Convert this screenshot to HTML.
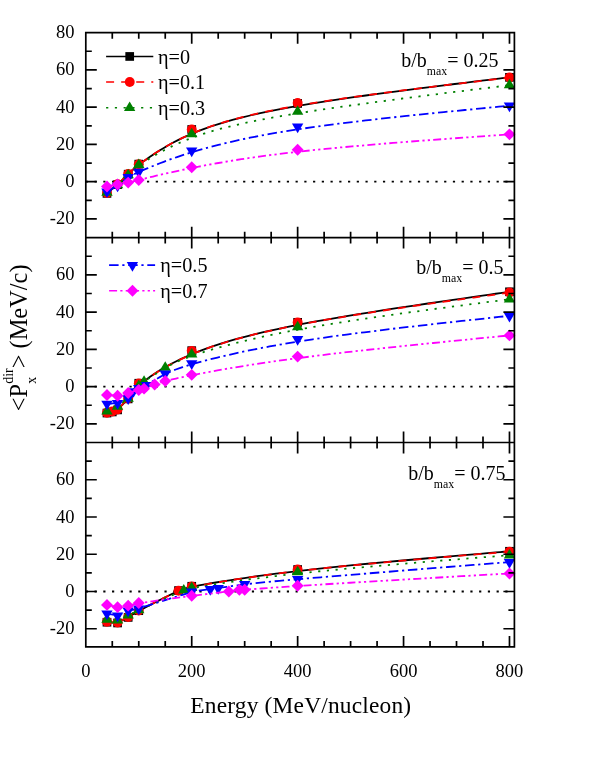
<!DOCTYPE html>
<html><head><meta charset="utf-8"><title>chart</title>
<style>html,body{margin:0;padding:0;background:#fff}svg{display:block;will-change:transform}</style></head>
<body>
<svg width="595" height="770" viewBox="0 0 595 770">
<rect width="595" height="770" fill="#fff"/>
<g font-family="'Liberation Serif', serif" fill="#000">
<path d="M85.8 181.65H514.4" stroke="#000" stroke-width="1.8" stroke-dasharray="2.2 6.54" fill="none"/>
<polyline points="106.98,193.38 106.98,193.38 106.99,193.38 107.01,193.37 107.04,193.34 107.08,193.30 107.16,193.24 107.26,193.16 107.40,193.05 107.57,192.90 107.79,192.72 108.05,192.50 108.37,192.24 108.75,191.93 109.19,191.57 109.68,191.16 110.23,190.71 110.83,190.22 111.47,189.68 112.15,189.11 112.86,188.51 113.60,187.88 114.37,187.22 115.15,186.54 115.95,185.83 116.76,185.11 117.58,184.38 118.39,183.64 119.20,182.89 120.02,182.13 120.83,181.36 121.64,180.59 122.44,179.81 123.25,179.03 124.04,178.25 124.84,177.47 125.63,176.70 126.41,175.92 127.19,175.15 127.96,174.39 128.72,173.63 129.50,172.86 130.31,172.08 131.18,171.26 132.11,170.40 133.15,169.49 134.29,168.51 135.57,167.45 137.01,166.29 138.62,165.03 140.43,163.65 142.45,162.14 144.71,160.49 147.22,158.69 149.99,156.74 153.03,154.68 156.33,152.51 159.91,150.24 163.76,147.91 167.89,145.51 172.30,143.08 177.00,140.62 181.99,138.16 187.28,135.70 192.86,133.27 198.75,130.88 204.94,128.54 211.47,126.26 218.36,124.03 225.63,121.84 233.32,119.69 241.44,117.58 250.04,115.50 259.12,113.44 268.73,111.40 278.89,109.38 289.62,107.38 300.95,105.38 312.91,103.38 325.50,101.39 338.59,99.40 352.04,97.44 365.70,95.51 379.42,93.63 393.06,91.81 406.46,90.06 419.48,88.39 431.97,86.81 443.78,85.34 454.76,83.99 464.76,82.77 473.64,81.70 481.88,80.70 488.74,79.86 494.36,79.18 498.86,78.64 502.37,78.21 505.00,77.89 506.89,77.66 508.15,77.51 508.92,77.42 509.31,77.37 509.46,77.35 509.48,77.35" fill="none" stroke="#000000" stroke-width="1.8"/>
<rect x="102.63" y="189.03" width="8.7" height="8.7" fill="#000000"/>
<rect x="113.23" y="180.28" width="8.7" height="8.7" fill="#000000"/>
<rect x="123.82" y="169.85" width="8.7" height="8.7" fill="#000000"/>
<rect x="134.41" y="159.79" width="8.7" height="8.7" fill="#000000"/>
<rect x="187.37" y="125.15" width="8.7" height="8.7" fill="#000000"/>
<rect x="293.29" y="99.08" width="8.7" height="8.7" fill="#000000"/>
<rect x="505.13" y="73.00" width="8.7" height="8.7" fill="#000000"/>
<polyline points="106.98,193.01 106.98,193.01 106.99,193.01 107.01,192.99 107.04,192.97 107.08,192.93 107.16,192.87 107.26,192.78 107.40,192.67 107.57,192.53 107.79,192.35 108.05,192.13 108.37,191.87 108.75,191.56 109.19,191.20 109.68,190.79 110.23,190.34 110.83,189.84 111.47,189.31 112.15,188.74 112.86,188.14 113.60,187.51 114.37,186.85 115.15,186.17 115.95,185.48 116.76,184.76 117.58,184.04 118.39,183.30 119.20,182.56 120.02,181.81 120.83,181.05 121.64,180.29 122.44,179.53 123.25,178.76 124.04,177.99 124.84,177.23 125.63,176.47 126.41,175.71 127.19,174.95 127.96,174.20 128.72,173.45 129.50,172.70 130.31,171.93 131.18,171.13 132.11,170.29 133.15,169.39 134.29,168.42 135.57,167.37 137.01,166.23 138.62,164.98 140.43,163.61 142.45,162.11 144.71,160.47 147.22,158.67 149.99,156.73 153.03,154.67 156.33,152.50 159.91,150.24 163.76,147.90 167.89,145.51 172.30,143.07 177.00,140.61 181.99,138.14 187.28,135.67 192.86,133.23 198.75,130.82 204.94,128.47 211.47,126.17 218.36,123.92 225.63,121.71 233.32,119.54 241.44,117.40 250.04,115.30 259.12,113.23 268.73,111.18 278.89,109.15 289.62,107.14 300.95,105.14 312.91,103.15 325.50,101.16 338.59,99.19 352.04,97.25 365.70,95.35 379.42,93.49 393.06,91.70 406.46,89.98 419.48,88.34 431.97,86.79 443.78,85.35 454.76,84.03 464.76,82.84 473.64,81.78 481.88,80.81 488.74,79.99 494.36,79.33 498.86,78.79 502.37,78.38 505.00,78.07 506.89,77.84 508.15,77.69 508.92,77.60 509.31,77.56 509.46,77.54 509.48,77.54" fill="none" stroke="#ff0000" stroke-width="1.8" stroke-dasharray="8 7.06"/>
<circle cx="106.98" cy="193.01" r="4.95" fill="#ff0000"/>
<circle cx="117.58" cy="184.26" r="4.95" fill="#ff0000"/>
<circle cx="128.17" cy="174.01" r="4.95" fill="#ff0000"/>
<circle cx="138.76" cy="164.14" r="4.95" fill="#ff0000"/>
<circle cx="191.72" cy="129.50" r="4.95" fill="#ff0000"/>
<circle cx="297.64" cy="103.05" r="4.95" fill="#ff0000"/>
<circle cx="509.48" cy="77.54" r="4.95" fill="#ff0000"/>
<polyline points="106.98,192.64 106.98,192.64 106.99,192.63 107.01,192.62 107.04,192.60 107.08,192.57 107.16,192.51 107.26,192.44 107.40,192.34 107.57,192.22 107.79,192.06 108.05,191.88 108.37,191.65 108.75,191.38 109.19,191.07 109.68,190.71 110.23,190.31 110.83,189.88 111.47,189.41 112.15,188.91 112.86,188.38 113.60,187.81 114.37,187.22 115.15,186.61 115.95,185.98 116.76,185.32 117.58,184.65 118.39,183.96 119.20,183.26 120.02,182.54 120.83,181.82 121.64,181.09 122.44,180.34 123.25,179.60 124.04,178.84 124.84,178.09 125.63,177.33 126.41,176.57 127.19,175.82 127.96,175.06 128.72,174.31 129.50,173.55 130.31,172.78 131.18,171.97 132.11,171.13 133.15,170.24 134.29,169.30 135.57,168.28 137.01,167.18 138.62,165.99 140.43,164.71 142.45,163.31 144.71,161.79 147.22,160.14 149.99,158.37 153.03,156.50 156.33,154.54 159.91,152.51 163.76,150.42 167.89,148.28 172.30,146.11 177.00,143.93 181.99,141.75 187.28,139.58 192.86,137.45 198.75,135.35 204.94,133.31 211.47,131.32 218.36,129.38 225.63,127.47 233.32,125.60 241.44,123.75 250.04,121.92 259.12,120.11 268.73,118.30 278.89,116.48 289.62,114.66 300.95,112.83 312.91,110.98 325.50,109.10 338.59,107.21 352.04,105.32 365.70,103.44 379.42,101.60 393.06,99.80 406.46,98.05 419.48,96.38 431.97,94.80 443.78,93.31 454.76,91.94 464.76,90.70 473.64,89.60 481.88,88.58 488.74,87.74 494.36,87.04 498.86,86.48 502.37,86.05 505.00,85.73 506.89,85.49 508.15,85.34 508.92,85.24 509.31,85.19 509.46,85.18 509.48,85.17" fill="none" stroke="#008000" stroke-width="1.8" stroke-dasharray="2.2 6.55"/>
<path d="M101.28 195.84L112.68 195.84L106.98 186.34Z" fill="#008000"/>
<path d="M111.88 188.20L123.28 188.20L117.58 178.70Z" fill="#008000"/>
<path d="M122.47 178.15L133.87 178.15L128.17 168.65Z" fill="#008000"/>
<path d="M133.06 168.09L144.46 168.09L138.76 158.59Z" fill="#008000"/>
<path d="M186.02 137.17L197.42 137.17L191.72 127.67Z" fill="#008000"/>
<path d="M291.94 114.82L303.34 114.82L297.64 105.32Z" fill="#008000"/>
<path d="M503.78 88.37L515.18 88.37L509.48 78.87Z" fill="#008000"/>
<polyline points="106.98,191.52 106.98,191.52 106.99,191.52 107.01,191.51 107.04,191.49 107.08,191.47 107.16,191.43 107.26,191.37 107.40,191.30 107.57,191.21 107.79,191.09 108.05,190.95 108.37,190.78 108.75,190.57 109.19,190.34 109.68,190.07 110.23,189.77 110.83,189.44 111.47,189.08 112.15,188.70 112.86,188.28 113.60,187.85 114.37,187.39 115.15,186.90 115.95,186.39 116.76,185.87 117.58,185.32 118.39,184.76 119.20,184.18 120.02,183.59 120.83,182.99 121.64,182.39 122.44,181.78 123.25,181.17 124.04,180.57 124.84,179.98 125.63,179.39 126.41,178.82 127.19,178.27 127.96,177.74 128.72,177.23 129.50,176.73 130.31,176.23 131.18,175.73 132.11,175.22 133.15,174.68 134.29,174.11 135.57,173.50 137.01,172.83 138.62,172.10 140.43,171.30 142.45,170.42 144.71,169.45 147.22,168.39 149.99,167.23 153.03,165.98 156.33,164.66 159.91,163.26 163.76,161.80 167.89,160.27 172.30,158.69 177.00,157.07 181.99,155.40 187.28,153.70 192.86,151.98 198.75,150.23 204.94,148.47 211.47,146.69 218.36,144.91 225.63,143.12 233.32,141.33 241.44,139.53 250.04,137.74 259.12,135.95 268.73,134.16 278.89,132.39 289.62,130.62 300.95,128.87 312.91,127.13 325.50,125.41 338.59,123.72 352.04,122.06 365.70,120.44 379.42,118.88 393.06,117.37 406.46,115.93 419.48,114.57 431.97,113.28 443.78,112.09 454.76,111.00 464.76,110.02 473.64,109.15 481.88,108.35 488.74,107.68 494.36,107.13 498.86,106.70 502.37,106.35 505.00,106.10 506.89,105.91 508.15,105.79 508.92,105.71 509.31,105.68 509.46,105.66 509.48,105.66" fill="none" stroke="#0000ff" stroke-width="1.8" stroke-dasharray="9.5 3.7 2.2 3.7"/>
<path d="M101.28 188.42L112.63 188.42L106.98 198.12Z" fill="#0000ff"/>
<path d="M111.88 182.65L123.23 182.65L117.58 192.35Z" fill="#0000ff"/>
<path d="M122.47 174.08L133.82 174.08L128.17 183.78Z" fill="#0000ff"/>
<path d="M133.06 168.68L144.41 168.68L138.76 178.38Z" fill="#0000ff"/>
<path d="M186.02 147.45L197.37 147.45L191.72 157.15Z" fill="#0000ff"/>
<path d="M291.94 123.61L303.29 123.61L297.64 133.31Z" fill="#0000ff"/>
<path d="M503.78 102.56L515.13 102.56L509.48 112.26Z" fill="#0000ff"/>
<polyline points="106.98,186.49 106.98,186.49 106.99,186.49 107.01,186.49 107.04,186.48 107.08,186.47 107.16,186.46 107.26,186.44 107.40,186.41 107.57,186.38 107.79,186.34 108.05,186.29 108.37,186.22 108.75,186.15 109.19,186.07 109.68,185.97 110.23,185.86 110.83,185.75 111.47,185.62 112.15,185.49 112.86,185.36 113.60,185.22 114.37,185.07 115.15,184.92 115.95,184.78 116.76,184.62 117.58,184.47 118.39,184.33 119.20,184.18 120.02,184.03 120.83,183.88 121.64,183.74 122.44,183.59 123.25,183.44 124.04,183.29 124.84,183.14 125.63,182.99 126.41,182.84 127.19,182.68 127.96,182.52 128.72,182.36 129.50,182.19 130.31,182.01 131.18,181.81 132.11,181.59 133.15,181.34 134.29,181.07 135.57,180.76 137.01,180.41 138.62,180.02 140.43,179.57 142.45,179.08 144.71,178.53 147.22,177.91 149.99,177.24 153.03,176.51 156.33,175.73 159.91,174.89 163.76,174.00 167.89,173.07 172.30,172.10 177.00,171.08 181.99,170.02 187.28,168.93 192.86,167.80 198.75,166.64 204.94,165.45 211.47,164.24 218.36,163.00 225.63,161.74 233.32,160.47 241.44,159.19 250.04,157.90 259.12,156.60 268.73,155.29 278.89,153.99 289.62,152.70 300.95,151.41 312.91,150.13 325.50,148.86 338.59,147.61 352.04,146.39 365.70,145.21 379.42,144.05 393.06,142.95 406.46,141.89 419.48,140.88 431.97,139.94 443.78,139.07 454.76,138.27 464.76,137.55 473.64,136.91 481.88,136.32 488.74,135.83 494.36,135.43 498.86,135.10 502.37,134.85 505.00,134.66 506.89,134.53 508.15,134.44 508.92,134.38 509.31,134.35 509.46,134.34 509.48,134.34" fill="none" stroke="#ff00ff" stroke-width="1.8" stroke-dasharray="8 3.2 2.2 3.2 2.2 3.2"/>
<path d="M101.03 186.49L106.98 180.54L112.93 186.49L106.98 192.44Z" fill="#ff00ff"/>
<path d="M111.63 184.44L117.58 178.49L123.53 184.44L117.58 190.39Z" fill="#ff00ff"/>
<path d="M122.22 182.58L128.17 176.63L134.12 182.58L128.17 188.53Z" fill="#ff00ff"/>
<path d="M132.81 179.97L138.76 174.02L144.71 179.97L138.76 185.92Z" fill="#ff00ff"/>
<path d="M185.77 167.31L191.72 161.36L197.67 167.31L191.72 173.26Z" fill="#ff00ff"/>
<path d="M291.69 149.80L297.64 143.85L303.59 149.80L297.64 155.75Z" fill="#ff00ff"/>
<path d="M503.53 134.34L509.48 128.39L515.43 134.34L509.48 140.29Z" fill="#ff00ff"/>
<path d="M85.8 386.60H514.4" stroke="#000" stroke-width="1.8" stroke-dasharray="2.2 6.54" fill="none"/>
<polyline points="106.98,413.05 106.98,413.05 106.99,413.05 107.00,413.04 107.02,413.04 107.05,413.03 107.09,413.02 107.16,413.01 107.25,412.99 107.36,412.97 107.49,412.94 107.66,412.91 107.87,412.87 108.11,412.82 108.38,412.76 108.68,412.70 109.01,412.63 109.36,412.55 109.74,412.47 110.13,412.38 110.54,412.28 110.96,412.18 111.39,412.07 111.82,411.96 112.25,411.84 112.69,411.71 113.13,411.58 113.57,411.43 114.02,411.26 114.48,411.07 114.96,410.84 115.46,410.59 115.98,410.29 116.53,409.95 117.10,409.55 117.71,409.11 118.35,408.60 119.03,408.03 119.75,407.40 120.50,406.70 121.27,405.96 122.07,405.16 122.88,404.31 123.71,403.41 124.55,402.48 125.39,401.49 126.24,400.48 127.09,399.42 127.93,398.34 128.77,397.22 129.62,396.07 130.51,394.87 131.47,393.62 132.53,392.31 133.70,390.93 135.02,389.48 136.51,387.94 138.20,386.30 140.11,384.57 142.27,382.72 144.71,380.76 147.44,378.68 150.48,376.49 153.83,374.20 157.49,371.82 161.48,369.38 165.79,366.87 170.43,364.32 175.40,361.74 180.72,359.15 186.38,356.54 192.38,353.95 198.75,351.38 205.47,348.84 212.59,346.33 220.14,343.85 228.14,341.39 236.65,338.95 245.68,336.52 255.28,334.10 265.47,331.69 276.30,329.28 287.79,326.86 299.98,324.43 312.91,321.99 326.57,319.54 340.81,317.09 355.44,314.66 370.27,312.27 385.12,309.94 399.80,307.69 414.11,305.54 427.87,303.50 440.90,301.60 452.99,299.85 463.97,298.28 473.64,296.90 482.56,295.63 489.85,294.59 495.69,293.76 500.24,293.11 503.66,292.63 506.11,292.28 507.76,292.04 508.75,291.90 509.26,291.83 509.45,291.80 509.48,291.80" fill="none" stroke="#000000" stroke-width="1.8"/>
<rect x="102.63" y="408.70" width="8.7" height="8.7" fill="#000000"/>
<rect x="107.93" y="407.58" width="8.7" height="8.7" fill="#000000"/>
<rect x="113.23" y="405.53" width="8.7" height="8.7" fill="#000000"/>
<rect x="123.82" y="394.54" width="8.7" height="8.7" fill="#000000"/>
<rect x="134.41" y="378.90" width="8.7" height="8.7" fill="#000000"/>
<rect x="187.37" y="346.30" width="8.7" height="8.7" fill="#000000"/>
<rect x="293.29" y="317.99" width="8.7" height="8.7" fill="#000000"/>
<rect x="505.13" y="287.45" width="8.7" height="8.7" fill="#000000"/>
<polyline points="106.98,412.68 106.98,412.67 106.99,412.67 107.00,412.67 107.02,412.67 107.05,412.66 107.09,412.65 107.16,412.64 107.25,412.62 107.36,412.60 107.49,412.57 107.66,412.54 107.87,412.49 108.11,412.44 108.38,412.39 108.68,412.32 109.01,412.25 109.36,412.18 109.74,412.09 110.13,412.00 110.54,411.91 110.96,411.80 111.39,411.70 111.82,411.58 112.25,411.47 112.69,411.34 113.13,411.21 113.57,411.06 114.02,410.89 114.48,410.70 114.96,410.47 115.46,410.21 115.98,409.91 116.53,409.57 117.10,409.18 117.71,408.73 118.35,408.22 119.03,407.65 119.75,407.02 120.50,406.33 121.27,405.58 122.07,404.79 122.88,403.94 123.71,403.05 124.55,402.12 125.39,401.15 126.24,400.15 127.09,399.11 127.93,398.05 128.77,396.96 129.62,395.84 130.51,394.67 131.47,393.46 132.53,392.18 133.70,390.84 135.02,389.42 136.51,387.92 138.20,386.32 140.11,384.61 142.27,382.80 144.71,380.87 147.44,378.81 150.48,376.63 153.83,374.36 157.49,371.99 161.48,369.55 165.79,367.05 170.43,364.51 175.40,361.93 180.72,359.32 186.38,356.72 192.38,354.12 198.75,351.54 205.47,348.99 212.59,346.47 220.14,343.97 228.14,341.51 236.65,339.06 245.68,336.62 255.28,334.20 265.47,331.78 276.30,329.37 287.79,326.96 299.98,324.55 312.91,322.13 326.57,319.71 340.81,317.29 355.44,314.89 370.27,312.55 385.12,310.26 399.80,308.05 414.11,305.95 427.87,303.95 440.90,302.10 452.99,300.39 463.97,298.86 473.64,297.52 482.56,296.28 489.85,295.27 495.69,294.46 500.24,293.83 503.66,293.35 506.11,293.01 507.76,292.78 508.75,292.64 509.26,292.57 509.45,292.55 509.48,292.54" fill="none" stroke="#ff0000" stroke-width="1.8" stroke-dasharray="8 7.06"/>
<circle cx="106.98" cy="412.68" r="4.95" fill="#ff0000"/>
<circle cx="112.28" cy="411.56" r="4.95" fill="#ff0000"/>
<circle cx="117.58" cy="409.51" r="4.95" fill="#ff0000"/>
<circle cx="128.17" cy="398.52" r="4.95" fill="#ff0000"/>
<circle cx="138.76" cy="383.43" r="4.95" fill="#ff0000"/>
<circle cx="191.72" cy="350.84" r="4.95" fill="#ff0000"/>
<circle cx="297.64" cy="322.34" r="4.95" fill="#ff0000"/>
<circle cx="509.48" cy="292.54" r="4.95" fill="#ff0000"/>
<polyline points="106.98,411.19 106.99,411.18 106.99,411.18 107.02,411.17 107.07,411.15 107.15,411.11 107.27,411.06 107.44,410.99 107.66,410.89 107.95,410.77 108.31,410.61 108.75,410.43 109.27,410.20 109.88,409.94 110.55,409.64 111.29,409.31 112.09,408.94 112.93,408.54 113.81,408.10 114.72,407.64 115.66,407.14 116.61,406.62 117.58,406.06 118.54,405.48 119.50,404.86 120.47,404.22 121.43,403.54 122.39,402.83 123.36,402.09 124.32,401.31 125.29,400.50 126.26,399.64 127.22,398.75 128.19,397.81 129.16,396.84 130.13,395.83 131.09,394.80 132.04,393.77 132.96,392.73 133.87,391.71 134.75,390.71 135.60,389.74 136.41,388.82 137.18,387.96 137.90,387.16 138.58,386.43 139.23,385.76 139.86,385.14 140.49,384.56 141.14,383.99 141.82,383.42 142.56,382.84 143.37,382.24 144.26,381.59 145.26,380.88 146.39,380.11 147.64,379.24 149.03,378.30 150.53,377.30 152.14,376.23 153.85,375.11 155.65,373.95 157.52,372.75 159.45,371.54 161.44,370.30 163.47,369.07 165.54,367.83 167.64,366.61 169.82,365.38 172.15,364.14 174.67,362.88 177.45,361.58 180.54,360.23 184.01,358.82 187.92,357.33 192.31,355.76 197.26,354.08 202.82,352.30 209.03,350.40 215.94,348.38 223.56,346.26 231.92,344.05 241.03,341.76 250.92,339.41 261.60,337.00 273.11,334.54 285.46,332.05 298.68,329.54 312.78,327.02 327.74,324.49 343.37,321.99 359.42,319.54 375.65,317.14 391.80,314.83 407.65,312.62 422.94,310.54 437.43,308.60 450.87,306.83 463.02,305.25 473.64,303.88 483.36,302.62 491.13,301.62 497.19,300.84 501.74,300.25 505.00,299.83 507.19,299.54 508.51,299.37 509.19,299.29 509.44,299.25 509.48,299.25" fill="none" stroke="#008000" stroke-width="1.8" stroke-dasharray="2.2 6.55"/>
<path d="M101.28 414.38L112.68 414.38L106.98 404.88Z" fill="#008000"/>
<path d="M111.88 409.73L123.28 409.73L117.58 400.23Z" fill="#008000"/>
<path d="M122.47 401.72L133.87 401.72L128.17 392.22Z" fill="#008000"/>
<path d="M133.06 389.06L144.46 389.06L138.76 379.56Z" fill="#008000"/>
<path d="M138.36 384.77L149.76 384.77L144.06 375.27Z" fill="#008000"/>
<path d="M159.54 370.80L170.94 370.80L165.24 361.30Z" fill="#008000"/>
<path d="M186.02 357.58L197.42 357.58L191.72 348.08Z" fill="#008000"/>
<path d="M291.94 330.20L303.34 330.20L297.64 320.70Z" fill="#008000"/>
<path d="M503.78 302.45L515.18 302.45L509.48 292.95Z" fill="#008000"/>
<polyline points="106.98,403.74 106.99,403.73 107.00,403.73 107.03,403.73 107.10,403.73 107.20,403.73 107.37,403.72 107.59,403.71 107.89,403.70 108.27,403.68 108.75,403.66 109.33,403.64 110.01,403.61 110.77,403.56 111.60,403.50 112.50,403.42 113.46,403.31 114.46,403.18 115.49,403.01 116.54,402.80 117.60,402.56 118.67,402.27 119.73,401.94 120.79,401.57 121.82,401.16 122.84,400.71 123.83,400.23 124.78,399.72 125.70,399.17 126.57,398.60 127.39,398.01 128.16,397.39 128.88,396.75 129.55,396.11 130.18,395.46 130.78,394.81 131.35,394.17 131.90,393.55 132.44,392.95 132.96,392.38 133.48,391.84 134.00,391.34 134.52,390.89 135.04,390.46 135.58,390.07 136.13,389.71 136.68,389.36 137.26,389.04 137.85,388.73 138.46,388.43 139.10,388.14 139.76,387.85 140.45,387.56 141.18,387.25 141.97,386.91 142.81,386.54 143.72,386.13 144.71,385.66 145.78,385.13 146.94,384.53 148.20,383.85 149.57,383.07 151.05,382.22 152.62,381.30 154.29,380.32 156.04,379.30 157.88,378.24 159.79,377.15 161.78,376.06 163.84,374.96 165.95,373.87 168.14,372.79 170.46,371.72 172.99,370.64 175.80,369.52 178.97,368.36 182.57,367.14 186.68,365.83 191.37,364.43 196.72,362.91 202.80,361.26 209.68,359.46 217.40,357.54 225.99,355.50 235.47,353.35 245.87,351.13 257.23,348.83 269.57,346.49 282.92,344.11 297.32,341.71 312.78,339.31 329.28,336.93 346.56,334.58 364.28,332.29 382.13,330.08 399.78,327.97 416.90,325.98 433.18,324.14 448.27,322.46 461.87,320.98 473.64,319.70 484.31,318.55 492.62,317.65 498.86,316.97 503.34,316.49 506.33,316.17 508.15,315.97 509.09,315.87 509.43,315.83 509.48,315.82" fill="none" stroke="#0000ff" stroke-width="1.8" stroke-dasharray="9.5 3.7 2.2 3.7"/>
<path d="M101.28 400.63L112.63 400.63L106.98 410.34Z" fill="#0000ff"/>
<path d="M111.88 400.08L123.23 400.08L117.58 409.78Z" fill="#0000ff"/>
<path d="M122.47 395.23L133.82 395.23L128.17 404.93Z" fill="#0000ff"/>
<path d="M127.76 388.16L139.11 388.16L133.46 397.86Z" fill="#0000ff"/>
<path d="M133.06 384.99L144.41 384.99L138.76 394.69Z" fill="#0000ff"/>
<path d="M141.00 382.01L152.35 382.01L146.70 391.71Z" fill="#0000ff"/>
<path d="M159.54 370.46L170.89 370.46L165.24 380.16Z" fill="#0000ff"/>
<path d="M186.02 360.22L197.37 360.22L191.72 369.92Z" fill="#0000ff"/>
<path d="M291.94 336.01L303.29 336.01L297.64 345.71Z" fill="#0000ff"/>
<path d="M503.78 312.72L515.13 312.72L509.48 322.43Z" fill="#0000ff"/>
<polyline points="106.98,394.98 106.99,394.98 107.00,394.98 107.03,394.99 107.10,394.99 107.20,395.00 107.37,395.01 107.59,395.03 107.89,395.05 108.27,395.08 108.75,395.12 109.33,395.17 110.01,395.22 110.77,395.27 111.60,395.31 112.50,395.35 113.45,395.37 114.45,395.37 115.47,395.34 116.52,395.29 117.58,395.21 118.64,395.09 119.69,394.93 120.75,394.75 121.81,394.54 122.88,394.30 123.94,394.05 125.00,393.78 126.06,393.50 127.13,393.21 128.19,392.91 129.26,392.62 130.32,392.32 131.38,392.03 132.41,391.74 133.43,391.46 134.41,391.18 135.36,390.92 136.28,390.67 137.14,390.43 137.96,390.21 138.72,390.01 139.43,389.82 140.11,389.64 140.76,389.47 141.41,389.29 142.05,389.11 142.71,388.92 143.39,388.71 144.10,388.48 144.86,388.23 145.67,387.94 146.54,387.64 147.45,387.30 148.40,386.95 149.38,386.59 150.39,386.21 151.41,385.82 152.45,385.43 153.50,385.05 154.54,384.66 155.58,384.28 156.64,383.91 157.71,383.53 158.83,383.16 159.99,382.78 161.23,382.39 162.55,381.99 163.97,381.57 165.51,381.14 167.17,380.69 168.99,380.21 171.02,379.70 173.32,379.14 175.97,378.52 179.03,377.85 182.56,377.09 186.63,376.25 191.32,375.32 196.67,374.28 202.76,373.12 209.65,371.84 217.38,370.44 225.97,368.93 235.46,367.33 245.87,365.64 257.23,363.88 269.57,362.04 282.92,360.15 297.32,358.21 312.78,356.24 329.28,354.23 346.56,352.23 364.28,350.24 382.13,348.30 399.78,346.43 416.90,344.65 433.18,342.98 448.27,341.46 461.87,340.10 473.64,338.93 484.31,337.88 492.62,337.05 498.86,336.43 503.34,335.99 506.33,335.69 508.15,335.51 509.09,335.42 509.43,335.39 509.48,335.38" fill="none" stroke="#ff00ff" stroke-width="1.8" stroke-dasharray="8 3.2 2.2 3.2 2.2 3.2"/>
<path d="M101.03 394.98L106.98 389.03L112.93 394.98L106.98 400.93Z" fill="#ff00ff"/>
<path d="M111.63 395.73L117.58 389.78L123.53 395.73L117.58 401.68Z" fill="#ff00ff"/>
<path d="M122.22 392.93L128.17 386.98L134.12 392.93L128.17 398.88Z" fill="#ff00ff"/>
<path d="M132.81 389.95L138.76 384.00L144.71 389.95L138.76 395.90Z" fill="#ff00ff"/>
<path d="M138.11 388.65L144.06 382.70L150.01 388.65L144.06 394.60Z" fill="#ff00ff"/>
<path d="M148.70 384.55L154.65 378.60L160.60 384.55L154.65 390.50Z" fill="#ff00ff"/>
<path d="M159.29 381.01L165.24 375.06L171.19 381.01L165.24 386.96Z" fill="#ff00ff"/>
<path d="M185.77 374.87L191.72 368.92L197.67 374.87L191.72 380.82Z" fill="#ff00ff"/>
<path d="M291.69 356.61L297.64 350.66L303.59 356.61L297.64 362.56Z" fill="#ff00ff"/>
<path d="M503.53 335.38L509.48 329.43L515.43 335.38L509.48 341.33Z" fill="#ff00ff"/>
<path d="M85.8 591.50H514.4" stroke="#000" stroke-width="1.8" stroke-dasharray="2.2 6.54" fill="none"/>
<polyline points="106.98,622.23 106.99,622.23 106.99,622.23 107.01,622.23 107.05,622.24 107.11,622.24 107.20,622.25 107.33,622.26 107.51,622.28 107.73,622.30 108.01,622.32 108.34,622.35 108.75,622.39 109.23,622.43 109.77,622.47 110.38,622.51 111.04,622.55 111.75,622.57 112.50,622.58 113.29,622.57 114.11,622.53 114.96,622.47 115.82,622.37 116.69,622.23 117.58,622.05 118.46,621.83 119.34,621.56 120.22,621.26 121.10,620.92 121.98,620.54 122.85,620.14 123.73,619.72 124.59,619.27 125.46,618.80 126.32,618.32 127.17,617.82 128.02,617.32 128.87,616.82 129.73,616.30 130.62,615.76 131.56,615.19 132.57,614.59 133.67,613.94 134.87,613.23 136.21,612.47 137.68,611.64 139.32,610.73 141.14,609.73 143.16,608.64 145.40,607.46 147.81,606.19 150.38,604.85 153.05,603.47 155.80,602.07 158.58,600.65 161.36,599.24 164.11,597.87 166.78,596.54 169.34,595.27 171.76,594.10 173.99,593.02 176.02,592.06 177.90,591.20 179.71,590.43 181.52,589.73 183.41,589.08 185.44,588.46 187.70,587.85 190.26,587.24 193.18,586.60 196.55,585.93 200.44,585.19 204.92,584.38 210.05,583.48 215.86,582.49 222.35,581.42 229.52,580.28 237.40,579.07 245.98,577.80 255.27,576.48 265.29,575.12 276.03,573.72 287.51,572.29 299.73,570.84 312.71,569.37 326.42,567.89 340.69,566.42 355.36,564.96 370.21,563.52 385.08,562.12 399.77,560.77 414.10,559.48 427.87,558.27 440.89,557.13 452.99,556.08 463.97,555.14 473.64,554.32 482.56,553.56 489.85,552.94 495.69,552.44 500.24,552.06 503.66,551.76 506.11,551.56 507.76,551.42 508.75,551.33 509.26,551.29 509.45,551.27 509.48,551.27" fill="none" stroke="#000000" stroke-width="1.8"/>
<rect x="102.63" y="617.88" width="8.7" height="8.7" fill="#000000"/>
<rect x="113.23" y="618.63" width="8.7" height="8.7" fill="#000000"/>
<rect x="123.82" y="613.04" width="8.7" height="8.7" fill="#000000"/>
<rect x="134.41" y="606.33" width="8.7" height="8.7" fill="#000000"/>
<rect x="174.13" y="586.22" width="8.7" height="8.7" fill="#000000"/>
<rect x="187.37" y="581.93" width="8.7" height="8.7" fill="#000000"/>
<rect x="293.29" y="565.17" width="8.7" height="8.7" fill="#000000"/>
<rect x="505.13" y="546.92" width="8.7" height="8.7" fill="#000000"/>
<polyline points="106.98,621.86 106.99,621.86 106.99,621.86 107.01,621.86 107.05,621.86 107.11,621.87 107.20,621.88 107.33,621.89 107.51,621.90 107.73,621.92 108.01,621.95 108.34,621.98 108.75,622.01 109.23,622.06 109.77,622.10 110.38,622.14 111.04,622.18 111.75,622.20 112.50,622.21 113.29,622.19 114.11,622.16 114.96,622.09 115.82,621.99 116.69,621.86 117.58,621.68 118.46,621.46 119.34,621.19 120.22,620.89 121.10,620.54 121.98,620.17 122.85,619.77 123.73,619.35 124.59,618.90 125.46,618.44 126.32,617.96 127.17,617.47 128.02,616.98 128.87,616.48 129.73,615.97 130.62,615.44 131.56,614.89 132.57,614.29 133.67,613.66 134.87,612.97 136.21,612.23 137.68,611.41 139.32,610.52 141.14,609.55 143.16,608.49 145.40,607.32 147.81,606.08 150.38,604.77 153.05,603.42 155.80,602.04 158.58,600.65 161.36,599.27 164.11,597.92 166.78,596.61 169.34,595.37 171.76,594.21 173.99,593.15 176.02,592.21 177.90,591.36 179.71,590.60 181.52,589.91 183.41,589.26 185.44,588.64 187.70,588.03 190.26,587.42 193.18,586.78 196.55,586.10 200.44,585.36 204.92,584.54 210.05,583.63 215.86,582.63 222.35,581.55 229.52,580.40 237.40,579.18 245.98,577.90 255.27,576.57 265.29,575.20 276.03,573.80 287.51,572.36 299.73,570.91 312.71,569.45 326.42,567.98 340.69,566.52 355.36,565.08 370.21,563.66 385.08,562.28 399.77,560.96 414.10,559.69 427.87,558.49 440.89,557.38 452.99,556.35 463.97,555.43 473.64,554.63 482.56,553.88 489.85,553.28 495.69,552.79 500.24,552.41 503.66,552.13 506.11,551.92 507.76,551.79 508.75,551.70 509.26,551.66 509.45,551.64 509.48,551.64" fill="none" stroke="#ff0000" stroke-width="1.8" stroke-dasharray="8 7.06"/>
<circle cx="106.98" cy="621.86" r="4.95" fill="#ff0000"/>
<circle cx="117.58" cy="622.60" r="4.95" fill="#ff0000"/>
<circle cx="128.17" cy="617.02" r="4.95" fill="#ff0000"/>
<circle cx="138.76" cy="610.50" r="4.95" fill="#ff0000"/>
<circle cx="178.48" cy="590.75" r="4.95" fill="#ff0000"/>
<circle cx="191.72" cy="586.47" r="4.95" fill="#ff0000"/>
<circle cx="297.64" cy="569.52" r="4.95" fill="#ff0000"/>
<circle cx="509.48" cy="551.64" r="4.95" fill="#ff0000"/>
<polyline points="106.98,619.44 106.99,619.44 106.99,619.44 107.01,619.44 107.05,619.44 107.11,619.45 107.20,619.46 107.33,619.47 107.51,619.48 107.73,619.50 108.01,619.53 108.34,619.55 108.75,619.59 109.23,619.63 109.77,619.67 110.38,619.71 111.04,619.75 111.75,619.78 112.50,619.79 113.29,619.79 114.11,619.76 114.96,619.71 115.82,619.63 116.69,619.52 117.58,619.36 118.46,619.17 119.34,618.95 120.22,618.69 121.10,618.39 121.98,618.07 122.85,617.73 123.72,617.37 124.59,616.99 125.45,616.60 126.30,616.20 127.15,615.79 128.00,615.39 128.84,614.98 129.69,614.56 130.58,614.13 131.54,613.67 132.57,613.17 133.71,612.63 134.98,612.03 136.39,611.37 137.98,610.63 139.76,609.81 141.76,608.90 143.99,607.88 146.48,606.76 149.18,605.54 152.05,604.26 155.04,602.93 158.10,601.56 161.19,600.19 164.26,598.82 167.26,597.49 170.15,596.22 172.88,595.01 175.41,593.90 177.68,592.90 179.67,592.03 181.44,591.28 183.08,590.62 184.68,590.04 186.31,589.51 188.05,589.02 190.00,588.55 192.24,588.08 194.85,587.58 197.92,587.04 201.52,586.44 205.75,585.75 210.67,584.98 216.30,584.11 222.64,583.15 229.71,582.12 237.50,581.01 246.02,579.85 255.27,578.63 265.26,577.37 275.99,576.06 287.47,574.73 299.70,573.37 312.69,572.00 326.40,570.63 340.68,569.26 355.34,567.90 370.21,566.56 385.08,565.26 399.77,564.01 414.09,562.81 427.86,561.68 440.89,560.62 452.99,559.65 463.97,558.78 473.64,558.01 482.56,557.31 489.85,556.73 495.69,556.27 500.24,555.91 503.66,555.64 506.11,555.45 507.76,555.32 508.75,555.24 509.26,555.20 509.45,555.18 509.48,555.18" fill="none" stroke="#008000" stroke-width="1.8" stroke-dasharray="2.2 6.55"/>
<path d="M101.28 622.64L112.68 622.64L106.98 613.14Z" fill="#008000"/>
<path d="M111.88 623.38L123.28 623.38L117.58 613.88Z" fill="#008000"/>
<path d="M122.47 618.54L133.87 618.54L128.17 609.04Z" fill="#008000"/>
<path d="M133.06 613.33L144.46 613.33L138.76 603.83Z" fill="#008000"/>
<path d="M178.08 593.40L189.48 593.40L183.78 583.90Z" fill="#008000"/>
<path d="M186.02 590.98L197.42 590.98L191.72 581.48Z" fill="#008000"/>
<path d="M291.94 575.33L303.34 575.33L297.64 565.83Z" fill="#008000"/>
<path d="M503.78 558.38L515.18 558.38L509.48 548.88Z" fill="#008000"/>
<polyline points="106.98,613.48 106.99,613.48 107.00,613.48 107.03,613.49 107.10,613.50 107.20,613.53 107.37,613.57 107.59,613.62 107.89,613.69 108.27,613.78 108.75,613.89 109.33,614.02 110.01,614.17 110.77,614.32 111.60,614.46 112.50,614.59 113.45,614.70 114.45,614.76 115.47,614.78 116.52,614.74 117.58,614.63 118.63,614.45 119.69,614.20 120.75,613.90 121.80,613.56 122.85,613.18 123.89,612.78 124.92,612.38 125.94,611.98 126.95,611.59 127.96,611.23 128.95,610.91 129.98,610.60 131.10,610.29 132.34,609.95 133.76,609.58 135.40,609.14 137.31,608.61 139.54,607.98 142.14,607.23 145.15,606.33 148.59,605.28 152.41,604.09 156.53,602.81 160.85,601.45 165.30,600.06 169.79,598.67 174.24,597.31 178.57,596.01 182.68,594.80 186.51,593.73 189.98,592.80 193.11,592.02 195.91,591.37 198.42,590.84 200.66,590.41 202.66,590.06 204.44,589.78 206.04,589.57 207.48,589.39 208.78,589.24 209.98,589.10 211.10,588.98 212.17,588.85 213.22,588.73 214.28,588.59 215.39,588.45 216.57,588.29 217.85,588.11 219.26,587.91 220.84,587.68 222.60,587.42 224.56,587.12 226.71,586.80 229.07,586.45 231.64,586.08 234.41,585.69 237.40,585.28 240.60,584.86 244.03,584.43 247.68,583.99 251.58,583.54 255.85,583.08 260.64,582.58 266.09,582.04 272.35,581.45 279.56,580.80 287.86,580.07 297.41,579.24 308.34,578.32 320.81,577.28 334.86,576.12 350.21,574.86 366.46,573.54 383.24,572.19 400.16,570.82 416.83,569.48 432.87,568.20 447.90,566.99 461.53,565.90 473.38,564.96 484.13,564.10 492.49,563.43 498.78,562.93 503.29,562.57 506.31,562.33 508.14,562.18 509.08,562.10 509.43,562.08 509.48,562.07" fill="none" stroke="#0000ff" stroke-width="1.8" stroke-dasharray="9.5 3.7 2.2 3.7"/>
<path d="M101.28 610.38L112.63 610.38L106.98 620.08Z" fill="#0000ff"/>
<path d="M111.88 612.61L123.23 612.61L117.58 622.31Z" fill="#0000ff"/>
<path d="M122.47 607.58L133.82 607.58L128.17 617.28Z" fill="#0000ff"/>
<path d="M133.06 605.53L144.41 605.53L138.76 615.24Z" fill="#0000ff"/>
<path d="M186.02 588.40L197.37 588.40L191.72 598.10Z" fill="#0000ff"/>
<path d="M204.56 585.98L215.91 585.98L210.26 595.68Z" fill="#0000ff"/>
<path d="M212.50 585.05L223.85 585.05L218.20 594.75Z" fill="#0000ff"/>
<path d="M238.98 580.95L250.33 580.95L244.68 590.65Z" fill="#0000ff"/>
<path d="M291.94 575.92L303.29 575.92L297.64 585.62Z" fill="#0000ff"/>
<path d="M503.78 558.97L515.13 558.97L509.48 568.67Z" fill="#0000ff"/>
<polyline points="106.98,604.91 106.99,604.91 107.00,604.91 107.03,604.92 107.10,604.94 107.20,604.96 107.37,604.99 107.59,605.04 107.89,605.11 108.27,605.20 108.75,605.30 109.33,605.43 110.01,605.57 110.77,605.73 111.60,605.89 112.50,606.05 113.45,606.20 114.45,606.34 115.47,606.46 116.52,606.55 117.58,606.60 118.63,606.62 119.69,606.61 120.75,606.56 121.80,606.48 122.85,606.37 123.89,606.24 124.92,606.09 125.94,605.92 126.95,605.73 127.96,605.53 128.95,605.32 129.98,605.10 131.10,604.86 132.33,604.60 133.75,604.31 135.38,604.00 137.28,603.65 139.50,603.26 142.07,602.83 145.05,602.36 148.47,601.83 152.28,601.27 156.42,600.67 160.82,600.04 165.43,599.40 170.17,598.75 175.00,598.10 179.84,597.46 184.63,596.83 189.31,596.23 193.83,595.66 198.16,595.12 202.30,594.61 206.24,594.13 209.96,593.68 213.46,593.26 216.72,592.87 219.74,592.50 222.51,592.17 225.01,591.86 227.25,591.58 229.23,591.32 230.98,591.09 232.51,590.88 233.86,590.69 235.04,590.53 236.08,590.38 236.98,590.26 237.78,590.16 238.50,590.08 239.16,590.01 239.81,589.96 240.50,589.91 241.29,589.86 242.22,589.81 243.35,589.75 244.73,589.67 246.42,589.56 248.46,589.43 250.90,589.26 253.82,589.04 257.32,588.79 261.51,588.48 266.53,588.12 272.50,587.69 279.53,587.21 287.74,586.66 297.26,586.03 308.21,585.33 320.70,584.54 334.79,583.68 350.16,582.75 366.43,581.78 383.22,580.78 400.14,579.79 416.82,578.81 432.87,577.87 447.90,577.00 461.53,576.21 473.38,575.52 484.13,574.90 492.49,574.42 498.78,574.05 503.29,573.79 506.31,573.62 508.14,573.51 509.08,573.46 509.43,573.44 509.48,573.43" fill="none" stroke="#ff00ff" stroke-width="1.8" stroke-dasharray="8 3.2 2.2 3.2 2.2 3.2"/>
<path d="M101.03 604.91L106.98 598.96L112.93 604.91L106.98 610.86Z" fill="#ff00ff"/>
<path d="M111.63 607.14L117.58 601.19L123.53 607.14L117.58 613.10Z" fill="#ff00ff"/>
<path d="M122.22 605.65L128.17 599.70L134.12 605.65L128.17 611.61Z" fill="#ff00ff"/>
<path d="M132.81 603.05L138.76 597.10L144.71 603.05L138.76 609.00Z" fill="#ff00ff"/>
<path d="M185.77 595.78L191.72 589.83L197.67 595.78L191.72 601.73Z" fill="#ff00ff"/>
<path d="M222.84 591.50L228.79 585.55L234.74 591.50L228.79 597.45Z" fill="#ff00ff"/>
<path d="M233.43 589.82L239.38 583.87L245.33 589.82L239.38 595.77Z" fill="#ff00ff"/>
<path d="M238.73 589.82L244.68 583.87L250.63 589.82L244.68 595.77Z" fill="#ff00ff"/>
<path d="M291.69 585.73L297.64 579.78L303.59 585.73L297.64 591.68Z" fill="#ff00ff"/>
<path d="M503.53 573.43L509.48 567.48L515.43 573.43L509.48 579.38Z" fill="#ff00ff"/>
<path d="M85.8 32.6H514.4V646.9H85.8Z M85.8 237.6H514.4 M85.8 442.5H514.4 M85.8 218.90h11M514.4 218.90h-11 M85.8 200.28h6M514.4 200.28h-6 M85.8 181.65h11M514.4 181.65h-11 M85.8 163.03h6M514.4 163.03h-6 M85.8 144.40h11M514.4 144.40h-11 M85.8 125.78h6M514.4 125.78h-6 M85.8 107.15h11M514.4 107.15h-11 M85.8 88.53h6M514.4 88.53h-6 M85.8 69.90h11M514.4 69.90h-11 M85.8 51.27h6M514.4 51.27h-6 M112.28 32.65v6M112.28 237.65v-6 M138.76 32.65v6M138.76 237.65v-6 M165.24 32.65v6M165.24 237.65v-6 M191.72 32.65v11M191.72 237.65v-11 M218.20 32.65v6M218.20 237.65v-6 M244.68 32.65v6M244.68 237.65v-6 M271.16 32.65v6M271.16 237.65v-6 M297.64 32.65v11M297.64 237.65v-11 M324.12 32.65v6M324.12 237.65v-6 M350.60 32.65v6M350.60 237.65v-6 M377.08 32.65v6M377.08 237.65v-6 M403.56 32.65v11M403.56 237.65v-11 M430.04 32.65v6M430.04 237.65v-6 M456.52 32.65v6M456.52 237.65v-6 M483.00 32.65v6M483.00 237.65v-6 M509.48 32.65v11M509.48 237.65v-11 M85.8 423.85h11M514.4 423.85h-11 M85.8 405.23h6M514.4 405.23h-6 M85.8 386.60h11M514.4 386.60h-11 M85.8 367.98h6M514.4 367.98h-6 M85.8 349.35h11M514.4 349.35h-11 M85.8 330.73h6M514.4 330.73h-6 M85.8 312.10h11M514.4 312.10h-11 M85.8 293.48h6M514.4 293.48h-6 M85.8 274.85h11M514.4 274.85h-11 M85.8 256.23h6M514.4 256.23h-6 M112.28 237.60v6M112.28 442.60v-6 M138.76 237.60v6M138.76 442.60v-6 M165.24 237.60v6M165.24 442.60v-6 M191.72 237.60v11M191.72 442.60v-11 M218.20 237.60v6M218.20 442.60v-6 M244.68 237.60v6M244.68 442.60v-6 M271.16 237.60v6M271.16 442.60v-6 M297.64 237.60v11M297.64 442.60v-11 M324.12 237.60v6M324.12 442.60v-6 M350.60 237.60v6M350.60 442.60v-6 M377.08 237.60v6M377.08 442.60v-6 M403.56 237.60v11M403.56 442.60v-11 M430.04 237.60v6M430.04 442.60v-6 M456.52 237.60v6M456.52 442.60v-6 M483.00 237.60v6M483.00 442.60v-6 M509.48 237.60v11M509.48 442.60v-11 M85.8 628.75h11M514.4 628.75h-11 M85.8 610.12h6M514.4 610.12h-6 M85.8 591.50h11M514.4 591.50h-11 M85.8 572.88h6M514.4 572.88h-6 M85.8 554.25h11M514.4 554.25h-11 M85.8 535.62h6M514.4 535.62h-6 M85.8 517.00h11M514.4 517.00h-11 M85.8 498.38h6M514.4 498.38h-6 M85.8 479.75h11M514.4 479.75h-11 M85.8 461.12h6M514.4 461.12h-6 M112.28 442.50v6M112.28 646.90v-6 M138.76 442.50v6M138.76 646.90v-6 M165.24 442.50v6M165.24 646.90v-6 M191.72 442.50v11M191.72 646.90v-11 M218.20 442.50v6M218.20 646.90v-6 M244.68 442.50v6M244.68 646.90v-6 M271.16 442.50v6M271.16 646.90v-6 M297.64 442.50v11M297.64 646.90v-11 M324.12 442.50v6M324.12 646.90v-6 M350.60 442.50v6M350.60 646.90v-6 M377.08 442.50v6M377.08 646.90v-6 M403.56 442.50v11M403.56 646.90v-11 M430.04 442.50v6M430.04 646.90v-6 M456.52 442.50v6M456.52 646.90v-6 M483.00 442.50v6M483.00 646.90v-6 M509.48 442.50v11M509.48 646.90v-11" stroke="#000" stroke-width="1.7" fill="none" stroke-linecap="butt" stroke-linejoin="miter"/>
<text x="74.5" y="38.15" font-size="18.5" text-anchor="end">80</text>
<text x="74.5" y="75.40" font-size="18.5" text-anchor="end">60</text>
<text x="74.5" y="112.65" font-size="18.5" text-anchor="end">40</text>
<text x="74.5" y="149.90" font-size="18.5" text-anchor="end">20</text>
<text x="74.5" y="187.15" font-size="18.5" text-anchor="end">0</text>
<text x="74.5" y="224.40" font-size="18.5" text-anchor="end">-20</text>
<text x="74.5" y="280.35" font-size="18.5" text-anchor="end">60</text>
<text x="74.5" y="317.60" font-size="18.5" text-anchor="end">40</text>
<text x="74.5" y="354.85" font-size="18.5" text-anchor="end">20</text>
<text x="74.5" y="392.10" font-size="18.5" text-anchor="end">0</text>
<text x="74.5" y="429.35" font-size="18.5" text-anchor="end">-20</text>
<text x="74.5" y="485.25" font-size="18.5" text-anchor="end">60</text>
<text x="74.5" y="522.50" font-size="18.5" text-anchor="end">40</text>
<text x="74.5" y="559.75" font-size="18.5" text-anchor="end">20</text>
<text x="74.5" y="597.00" font-size="18.5" text-anchor="end">0</text>
<text x="74.5" y="634.25" font-size="18.5" text-anchor="end">-20</text>
<text x="85.80" y="677.4" font-size="18.5" text-anchor="middle">0</text>
<text x="191.72" y="677.4" font-size="18.5" text-anchor="middle">200</text>
<text x="297.64" y="677.4" font-size="18.5" text-anchor="middle">400</text>
<text x="403.56" y="677.4" font-size="18.5" text-anchor="middle">600</text>
<text x="509.48" y="677.4" font-size="18.5" text-anchor="middle">800</text>
<text x="190.3" y="712.8" font-size="23.4" letter-spacing="0.19">Energy (MeV/nucleon)</text>
<text transform="translate(27.1 411.2) rotate(-90)" font-size="24.4">&lt;P<tspan font-size="14" dy="8.5">x</tspan><tspan font-size="14" dy="-22.2" dx="-7">dir</tspan><tspan dy="13.7">&gt; (MeV/c)</tspan></text>
<text x="401.3" y="66.8" font-size="20">b/b<tspan font-size="11.8" dy="7.8">max</tspan><tspan dy="-7.8">= 0.25</tspan></text>
<text x="416.3" y="274.0" font-size="20">b/b<tspan font-size="11.8" dy="7.8">max</tspan><tspan dy="-7.8">= 0.5</tspan></text>
<text x="408.3" y="479.7" font-size="20">b/b<tspan font-size="11.8" dy="7.8">max</tspan><tspan dy="-7.8">= 0.75</tspan></text>
<path d="M106.1 56.45H153.3" stroke="#000000" stroke-width="1.6" fill="none"/>
<rect x="125.35" y="52.10" width="8.7" height="8.7" fill="#000000"/>
<text x="158.0" y="63.5" font-size="20.2">η=0</text>
<path d="M106.1 81.95H153.3" stroke="#ff0000" stroke-width="1.6" stroke-dasharray="8 7.06" fill="none"/>
<circle cx="129.75" cy="81.95" r="4.95" fill="#ff0000"/>
<text x="158.0" y="89.0" font-size="20.2">η=0.1</text>
<path d="M106.1 107.7H153.3" stroke="#008000" stroke-width="1.6" stroke-dasharray="2.2 6.55" fill="none"/>
<path d="M123.95 110.90L135.35 110.90L129.65 101.40Z" fill="#008000"/>
<text x="158.0" y="114.7" font-size="20.2">η=0.3</text>
<path d="M109.1 265.1H155.1" stroke="#0000ff" stroke-width="1.6" stroke-dasharray="9.5 3.7 2.2 3.7" fill="none"/>
<path d="M126.75 262.00L138.10 262.00L132.45 271.70Z" fill="#0000ff"/>
<text x="160.3" y="272.1" font-size="20.2">η=0.5</text>
<path d="M109.1 290.8H155.1" stroke="#ff00ff" stroke-width="1.6" stroke-dasharray="8 3.2 2.2 3.2 2.2 3.2" fill="none"/>
<path d="M126.55 290.80L132.50 284.85L138.45 290.80L132.50 296.75Z" fill="#ff00ff"/>
<text x="160.3" y="297.8" font-size="20.2">η=0.7</text>
</g></svg>
</body></html>
